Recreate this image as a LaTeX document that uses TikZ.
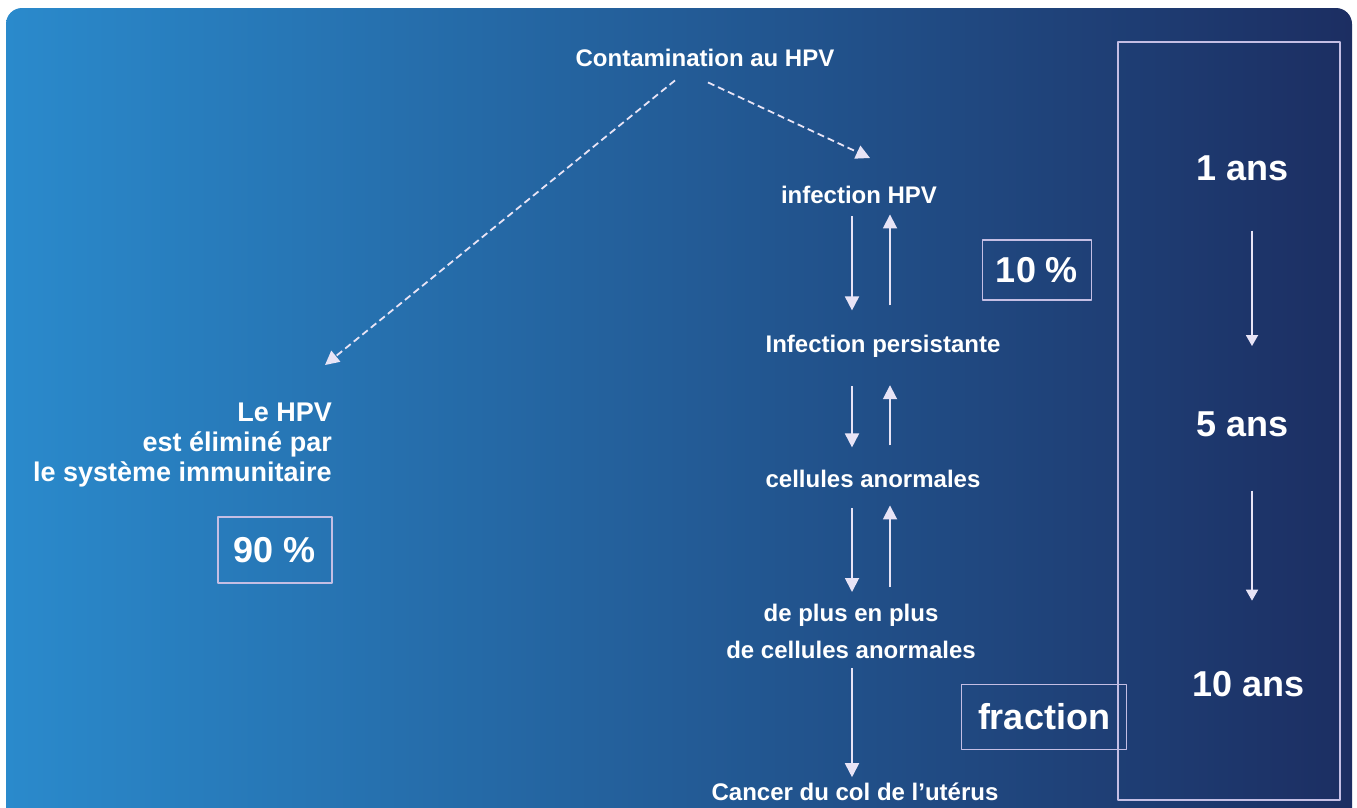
\documentclass[tikz,border=0pt]{standalone}
\usepackage{fontspec}
\setmainfont{Liberation Sans}
\usetikzlibrary{arrows.meta}
\definecolor{bgleft}{RGB}{42,138,204}
\definecolor{bgmid}{RGB}{24,92,162}
\definecolor{bgright}{RGB}{28,46,98}
\definecolor{arrowline}{RGB}{232,228,246}
\definecolor{boxline}{RGB}{196,190,228}
\begin{document}
\begin{tikzpicture}[x=1pt,y=-1pt,>={Triangle[width=14pt,length=14pt]}, line join=round,
  txt/.style={text=white,font=\bfseries\fontsize{24}{37}\selectfont,inner sep=0pt,align=center},
  big/.style={text=white,font=\bfseries\fontsize{36}{40}\selectfont,inner sep=0pt},
  pbox/.style={big,draw=boxline,line width=1.6pt},
  link/.style={draw=arrowline,line width=1.8pt,->},
  dashlink/.style={link,dash pattern=on 7pt off 4pt},
  timelink/.style={link,>={Triangle[width=12pt,length=11pt]}}]
\clip (0,0) rectangle (1357,807);
\fill[white] (0,0) rectangle (1357,807);
\shade[rounded corners=16pt,left color=bgleft,middle color=bgmid,right color=bgright] (6,8) rectangle (1352,840);
% names of the free ends and the columns of the arrows
\path
(852,0) coordinate (dn)
(890,0) coordinate (up)
(1252,0) coordinate (tx)
(325,365) coordinate (ltip)
(870,158) coordinate (rtip)
;
% stages
\node[txt,anchor=base] (cont) at (705,66) {Contamination au HPV};
\node[txt,anchor=base] (inf) at (859,203) {infection HPV};
\node[txt,anchor=base] (pers) at (883,352) {Infection persistante};
\node[txt,anchor=base] (cell) at (873,487) {cellules anormales};
\node[txt,anchor=north] (plus) at (851,604) {de plus en plus\\de cellules anormales};
\node[txt,anchor=base] (cancer) at (855,800) {Cancer du col de l’utérus};
\node[txt,align=right,anchor=north east,font=\bfseries\fontsize{27}{30}\selectfont] (elim) at (332,403) {Le HPV\\est éliminé par\\le système immunitaire};
% percentages
\node[pbox,minimum width=114pt,minimum height=66pt] (p90) at (275,550) {90 \%};
\node[pbox,minimum width=109pt,minimum height=60pt] (p10) at (1037,270) {10 \%};
% time column
\draw[boxline,line width=1.6pt] (1118,42) rectangle (1340,800);
\node[pbox,minimum width=165pt,minimum height=65pt] (frac) at (1044,717) {fraction};
\node[big,anchor=base] (t1) at (1243,180) {1 ans};
\node[big,anchor=base] (t5) at (1243,436) {5 ans};
\node[big,anchor=base] (t10) at (1249,696) {10 ans};
% connectors
\draw[dashlink] ([shift={(-30,14)}]cont.south) -- (ltip);
\draw[dashlink] ([shift={(3,16)}]cont.south) -- (rtip);
\foreach \a/\b/\s/\e in {inf/pers/13/24,pers/cell/29/22,cell/plus/21/12,plus/cancer/9/5}
\draw[link,shorten <=\s pt,shorten >=\e pt] (\a.south -| dn) -- (\b.north -| dn);
\foreach \a/\b/\s/\e in {pers/inf/29/11,cell/pers/24/28,plus/cell/17/18}
\draw[link,shorten <=\s pt,shorten >=\e pt] (\a.north -| up) -- (\b.south -| up);
\foreach \a/\b/\s/\e in {t1/t5/50/65,t5/t10/54/70}
\draw[timelink,shorten <=\s pt,shorten >=\e pt] (\a.south -| tx) -- (\b.north -| tx);
\end{tikzpicture}
\end{document}
